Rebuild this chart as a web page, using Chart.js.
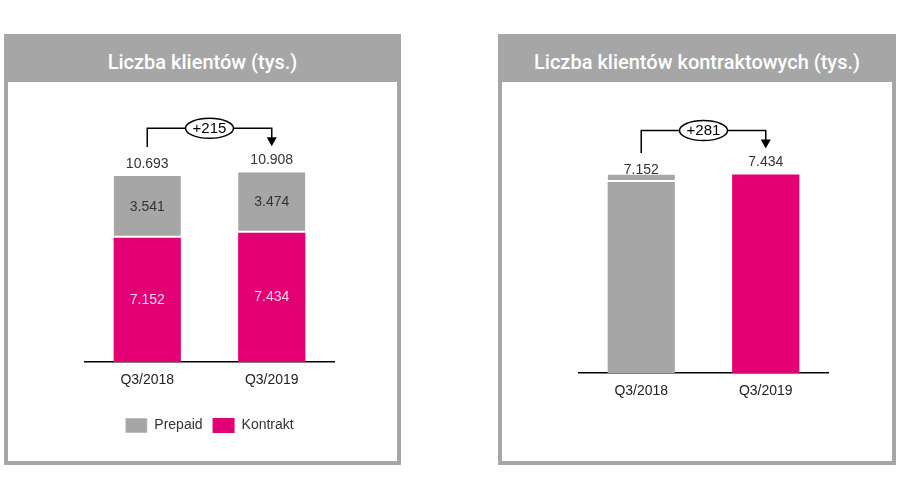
<!DOCTYPE html>
<html>
<head>
<meta charset="utf-8">
<script src="https://cdn.jsdelivr.net/npm/chart.js@4/dist/chart.umd.min.js"></script>
<style>
body { margin: 0; background: #fff; width: 900px; height: 500px; position: relative; overflow: hidden; }
.panel { position: absolute; top: 34px; height: 431px; box-sizing: border-box; border: 4px solid #a6a6a6; background: #fff; }
.panel .title { position: absolute; left: -4px; right: -4px; top: -4px; height: 48px; background: #a6a6a6; color: #fff;
	font-family: Roboto, sans-serif; font-size: 20px; font-weight: 500; text-align: center; box-sizing: border-box; padding-top: 8px; line-height: 40px; }
.panel canvas { position: absolute; }
</style>
</head>
<body>
<div class="panel" id="p1" style="left:4px; width:397px;">
	<div class="title">Liczba klientów (tys.)</div>
	<div style="position:absolute; left:0; top:44px; width:389px; height:379px;"><canvas id="c1"></canvas></div>
</div>
<div class="panel" id="p2" style="left:498px; width:398px;">
	<div class="title">Liczba klientów kontraktowych (tys.)</div>
	<div style="position:absolute; left:0; top:44px; width:390px; height:379px;"><canvas id="c2"></canvas></div>
</div>
<script>
// values in thousands
var categories = ['Q3/2018', 'Q3/2019'];
var prepaid = [3541, 3474];
var kontrakt = [7152, 7434];
var totals = [10693, 10908];
var contractClients = [7152, 7434];
var contractStep = [281, 0];
var deltaAll = '+215';
var deltaContract = '+281';

var GRAY = '#a6a6a6';
var PINK = '#e20074';
var FONT = '"Liberation Sans", Arial, sans-serif';

function fmt(n) {
	var s = String(n);
	return s.replace(/\B(?=(\d{3})+(?!\d))/g, '.');
}

// labels over the bars + the bracket with the change in the ellipse
function labelsPlugin(topValues, innerLabels, delta) {
	return {
		id: 'labels',
		afterDatasetsDraw: function (chart) {
			var ctx = chart.ctx;
			var x = chart.scales.x, y = chart.scales.y;
			ctx.save();
			ctx.font = '14px ' + FONT;
			ctx.textAlign = 'center';
			ctx.textBaseline = 'middle';
			ctx.fillStyle = '#333';
			topValues.forEach(function (v, i) {
				ctx.fillText(fmt(v), x.getPixelForValue(i), y.getPixelForValue(v) - 12);
			});
			if (innerLabels) {
				innerLabels.forEach(function (l) {
					ctx.fillStyle = l.color;
					var meta = chart.getDatasetMeta(l.ds);
					meta.data.forEach(function (bar, i) {
						var v = chart.data.datasets[l.ds].data[i];
						ctx.fillText(fmt(v), bar.x, (bar.y + bar.base) / 2);
					});
				});
			}
			// bracket
			var x0 = x.getPixelForValue(0), x1 = x.getPixelForValue(1);
			var yTop = y.getPixelForValue(Math.max(topValues[0], topValues[1])) - 44;
			var yStart = y.getPixelForValue(topValues[0]) - 29;
			var yTip = y.getPixelForValue(topValues[1]) - 26;
			ctx.strokeStyle = '#000';
			ctx.fillStyle = '#000';
			ctx.lineWidth = 1.5;
			ctx.beginPath();
			ctx.moveTo(x0, yStart);
			ctx.lineTo(x0, yTop);
			ctx.lineTo(x1, yTop);
			ctx.lineTo(x1, yTip - 8);
			ctx.stroke();
			ctx.beginPath();
			ctx.moveTo(x1 - 5, yTip - 9);
			ctx.lineTo(x1 + 5, yTip - 9);
			ctx.lineTo(x1, yTip);
			ctx.closePath();
			ctx.fill();
			var cx = (x0 + x1) / 2;
			ctx.beginPath();
			ctx.ellipse(cx, yTop, 24, 10, 0, 0, Math.PI * 2);
			ctx.fillStyle = '#fff';
			ctx.fill();
			ctx.stroke();
			ctx.fillStyle = '#000';
			ctx.font = '15px ' + FONT;
			ctx.fillText(delta, cx, yTop + 0.5);
			ctx.restore();
		}
	};
}

function xAxis(extra) {
	return {
		stacked: true,
		grid: {display: false},
		border: {display: true, color: '#000', width: 1.5},
		ticks: {color: '#222', padding: 2, font: {family: FONT, size: 14}},
		afterFit: function (scale) { scale.height += extra; }
	};
}

var chart1 = new Chart(document.getElementById('c1'), {
	type: 'bar',
	data: {
		labels: categories,
		datasets: [
			{label: 'Prepaid', data: prepaid, backgroundColor: GRAY, borderColor: '#fff',
				borderWidth: {bottom: 2, top: 0, left: 0, right: 0}, borderSkipped: false, stack: 's', order: 2},
			{label: 'Kontrakt', data: kontrakt, backgroundColor: PINK, borderWidth: 0, stack: 's', order: 1}
		]
	},
	options: {
		responsive: true,
		maintainAspectRatio: false,
		animation: false,
		datasets: {bar: {categoryPercentage: 1, barPercentage: 0.54}},
		layout: {padding: {top: 40, left: 77, right: 63, bottom: 18}},
		scales: {
			x: xAxis(17),
			y: {stacked: true, display: false, min: 0, max: 13800}
		},
		plugins: {
			tooltip: {enabled: false},
			legend: {
				position: 'bottom',
				labels: {
					boxWidth: 22, boxHeight: 15, padding: 10, color: '#333',
					font: {family: FONT, size: 14},
					sort: function (a, b) { return a.datasetIndex - b.datasetIndex; }
				}
			}
		}
	},
	plugins: [labelsPlugin(totals, [{ds: 0, color: '#333'}, {ds: 1, color: 'rgba(255,225,240,0.95)'}], deltaAll)]
});

var chart2 = new Chart(document.getElementById('c2'), {
	type: 'bar',
	data: {
		labels: categories,
		datasets: [
			{label: 'Kontrakt', data: contractClients, backgroundColor: [GRAY, PINK], borderWidth: 0, stack: 's'},
			{label: 'Zmiana', data: contractStep, backgroundColor: GRAY, borderColor: '#fff',
				borderWidth: {bottom: 2, top: 0, left: 0, right: 0}, borderSkipped: false, stack: 's'}
		]
	},
	options: {
		responsive: true,
		maintainAspectRatio: false,
		animation: false,
		datasets: {bar: {categoryPercentage: 1, barPercentage: 0.54}},
		layout: {padding: {top: 40, left: 77, right: 64, bottom: 59}},
		scales: {
			x: xAxis(0),
			y: {stacked: true, display: false, min: 0, max: 9400}
		},
		plugins: {
			tooltip: {enabled: false},
			legend: {display: false}
		}
	},
	plugins: [labelsPlugin(contractClients, null, deltaContract)]
});
</script>
</body>
</html>
